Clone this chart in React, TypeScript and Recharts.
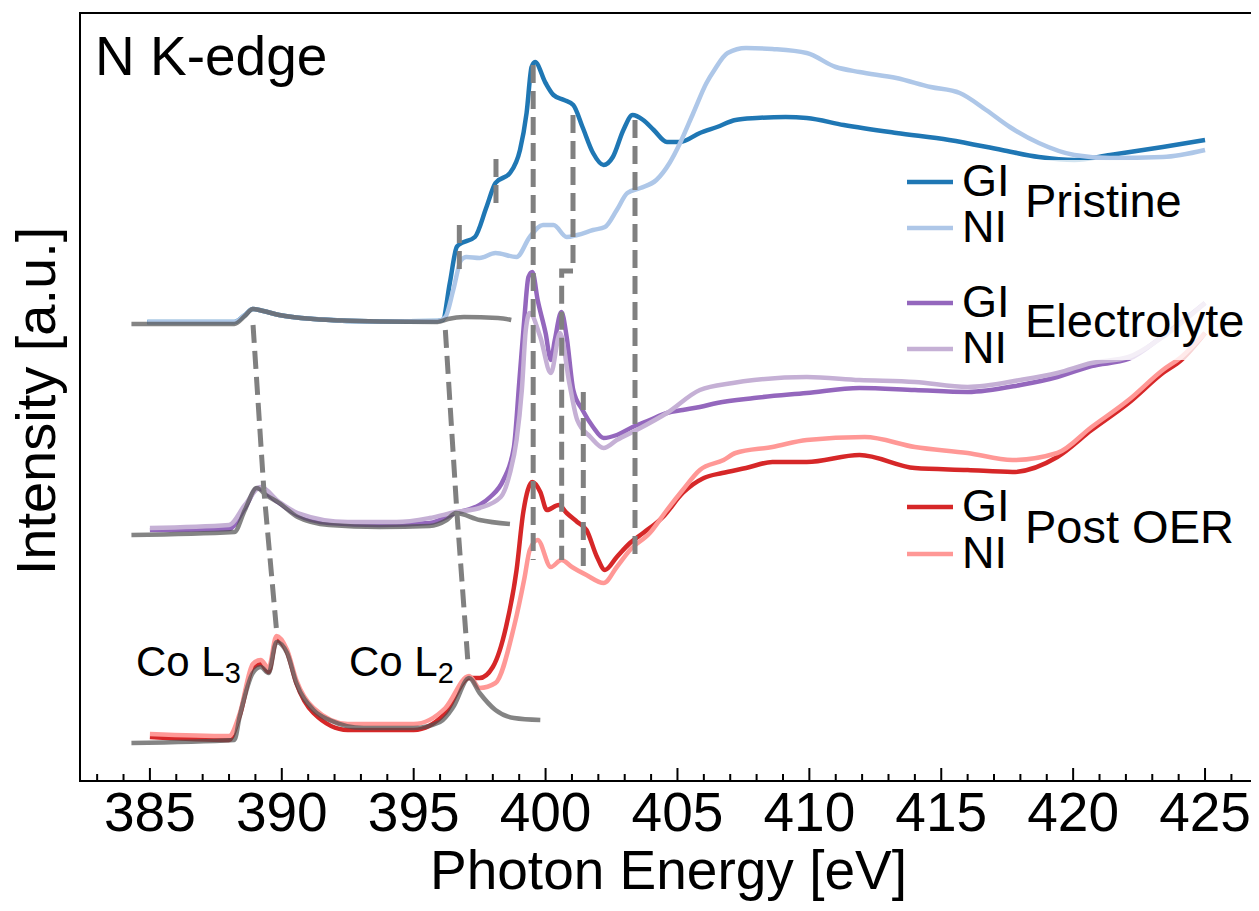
import React from 'react';
import { ComposedChart, Line, XAxis, YAxis, Label } from 'recharts';

const FONT = '"Liberation Sans", Arial, Helvetica, sans-serif';

// ---------- axis ticks ----------
const energyTicks = [383, 384, 385, 386, 387, 388, 389, 390, 391, 392, 393, 394, 395, 396, 397, 398, 399, 400, 401, 402, 403, 404, 405, 406, 407, 408, 409, 410, 411, 412, 413, 414, 415, 416, 417, 418, 419, 420, 421, 422, 423, 424, 425, 426];
const majorTickLabels = ['385', '390', '395', '400', '405', '410', '415', '420', '425'];
const xDomain = [382.35, 426.97];
const yDomain = [0, 7.68];

// ---------- Pristine ----------
const prRefE = [384.3, 388.2, 388.6, 388.9, 389.3, 389.9, 391.2, 393.7, 395.9, 396.3, 396.9, 398.2, 398.7];
const prRefI = [4.57, 4.57, 4.65, 4.72, 4.70, 4.66, 4.62, 4.595, 4.59, 4.62, 4.64, 4.63, 4.61];

const prGIE = [384.9, 388.2, 388.6, 388.9, 389.3, 389.9, 391.2, 393.7, 395.9, 396.1, 396.37, 396.63, 396.7, 397.32, 397.76, 398.1, 398.65, 399.03, 399.28, 399.47, 399.6, 400.0, 400.3, 400.7, 401.05, 401.4, 401.8, 402.2, 402.55, 402.95, 403.3, 403.7, 404.1, 404.6, 405.1, 405.85, 406.5, 407.2, 408.0, 409.1, 409.9, 411.3, 413.3, 415.3, 417.3, 418.7, 420.05, 421.4, 423.4, 425.0];
const prGII = [4.59, 4.59, 4.66, 4.72, 4.70, 4.66, 4.62, 4.595, 4.60, 4.61, 4.98, 5.34, 5.36, 5.44, 5.74, 5.98, 6.08, 6.31, 6.68, 7.14, 7.19, 6.98, 6.86, 6.81, 6.76, 6.54, 6.28, 6.16, 6.24, 6.51, 6.66, 6.61, 6.51, 6.39, 6.39, 6.48, 6.54, 6.61, 6.63, 6.64, 6.63, 6.56, 6.48, 6.41, 6.31, 6.24, 6.21, 6.26, 6.34, 6.41];

const prNIE = [384.9, 388.2, 388.6, 388.9, 389.3, 389.9, 391.2, 393.7, 395.9, 396.2, 396.5, 396.8, 397.0, 397.5, 398.1, 398.9, 399.4, 399.9, 400.3, 400.8, 401.2, 401.8, 402.25, 402.7, 403.1, 403.6, 404.2, 404.7, 405.1, 405.6, 406.1, 406.4, 406.9, 407.6, 408.6, 409.9, 411.0, 411.9, 413.3, 414.6, 415.7, 416.7, 417.6, 418.7, 420.05, 421.4, 423.4, 425.0];
const prNII = [4.59, 4.59, 4.66, 4.72, 4.70, 4.66, 4.62, 4.595, 4.60, 4.64, 4.91, 5.21, 5.24, 5.23, 5.28, 5.24, 5.44, 5.56, 5.56, 5.44, 5.46, 5.51, 5.54, 5.71, 5.88, 5.93, 6.01, 6.18, 6.38, 6.68, 6.98, 7.11, 7.28, 7.33, 7.32, 7.28, 7.14, 7.09, 7.03, 6.94, 6.88, 6.71, 6.54, 6.38, 6.26, 6.23, 6.24, 6.31];

// ---------- Electrolyte ----------
const elRefE = [384.3, 388.2, 388.6, 389.05, 389.4, 389.9, 390.6, 391.8, 393.7, 395.6, 396.25, 396.6, 397.5, 398.65];
const elRefI = [2.46, 2.49, 2.71, 2.93, 2.86, 2.78, 2.64, 2.56, 2.54, 2.55, 2.61, 2.68, 2.61, 2.57];

const elGIE = [385.0, 388.0, 388.6, 389.1, 389.5, 389.9, 390.6, 391.8, 393.7, 395.6, 396.6, 397.5, 397.9, 398.4, 398.8, 399.0, 399.2, 399.35, 399.5, 399.7, 400.0, 400.2, 400.35, 400.6, 400.8, 401.05, 401.4, 401.8, 402.2, 402.7, 403.3, 403.95, 404.6, 405.2, 405.85, 406.5, 407.9, 409.9, 411.9, 414.0, 416.0, 418.0, 419.4, 420.7, 422.1, 423.4, 425.0];
const elGII = [2.51, 2.52, 2.73, 2.93, 2.86, 2.78, 2.66, 2.58, 2.56, 2.58, 2.68, 2.76, 2.84, 3.01, 3.34, 3.98, 4.64, 5.04, 5.09, 4.81, 4.48, 4.21, 4.41, 4.69, 4.44, 3.91, 3.71, 3.54, 3.43, 3.46, 3.54, 3.61, 3.68, 3.71, 3.74, 3.78, 3.83, 3.88, 3.93, 3.91, 3.89, 3.96, 4.04, 4.15, 4.22, 4.45, 4.78];

const elNIE = [385.0, 388.0, 388.6, 389.2, 389.9, 390.6, 392.5, 394.35, 395.6, 396.6, 397.5, 398.3, 398.65, 398.9, 399.1, 399.25, 399.4, 399.8, 400.2, 400.55, 400.9, 401.2, 401.7, 402.2, 402.7, 403.45, 404.6, 405.85, 407.1, 407.9, 409.9, 411.9, 414.0, 416.0, 418.0, 419.4, 420.7, 422.1, 423.4, 425.0];
const elNII = [2.53, 2.56, 2.76, 2.94, 2.79, 2.68, 2.59, 2.59, 2.63, 2.69, 2.73, 2.84, 3.08, 3.41, 3.91, 4.51, 4.68, 4.44, 4.08, 4.48, 3.98, 3.61, 3.44, 3.33, 3.41, 3.51, 3.68, 3.91, 3.98, 4.01, 4.04, 4.01, 3.99, 3.94, 4.01, 4.08, 4.18, 4.24, 4.44, 4.78];

// ---------- Post OER ----------
const poRefE = [384.3, 388.2, 388.4, 388.9, 389.2, 389.5, 389.8, 390.2, 390.55, 391.2, 391.8, 393.1, 395.0, 396.0, 396.5, 397.1, 397.5, 398.1, 398.8, 399.8];
const poRefI = [0.38, 0.41, 0.64, 1.08, 1.14, 1.08, 1.39, 1.28, 0.98, 0.71, 0.61, 0.53, 0.53, 0.59, 0.74, 1.03, 0.88, 0.71, 0.63, 0.61];

const poGIE = [385.0, 388.0, 388.4, 388.9, 389.2, 389.5, 389.8, 390.2, 390.55, 391.2, 392.5, 395.0, 396.2, 397.1, 397.5, 398.0, 398.5, 398.9, 399.15, 399.5, 399.8, 400.05, 400.5, 400.8, 401.2, 401.55, 401.95, 402.25, 402.7, 403.2, 403.7, 404.45, 405.2, 406.0, 406.7, 407.6, 408.6, 409.9, 411.9, 414.0, 416.0, 417.7, 419.4, 420.7, 422.1, 423.4, 424.1, 425.0];
const poGII = [0.44, 0.41, 0.65, 1.13, 1.17, 1.09, 1.41, 1.29, 0.98, 0.68, 0.51, 0.51, 0.68, 1.03, 1.03, 1.14, 1.54, 2.11, 2.68, 2.99, 2.89, 2.71, 2.76, 2.68, 2.59, 2.51, 2.24, 2.11, 2.24, 2.38, 2.48, 2.64, 2.88, 3.03, 3.08, 3.13, 3.19, 3.19, 3.26, 3.13, 3.11, 3.09, 3.24, 3.51, 3.78, 4.08, 4.21, 4.48];

const poNIE = [385.0, 388.0, 388.4, 388.9, 389.2, 389.5, 389.8, 390.2, 390.55, 391.2, 392.5, 395.0, 396.2, 397.1, 397.5, 398.1, 398.8, 399.2, 399.4, 399.7, 400.2, 400.6, 401.0, 401.55, 402.2, 402.7, 403.2, 403.95, 404.6, 405.2, 405.85, 406.75, 407.2, 408.6, 409.9, 412.1, 414.0, 416.0, 417.7, 419.4, 420.7, 422.1, 423.4, 424.1, 425.0];
const poNII = [0.47, 0.45, 0.67, 1.17, 1.21, 1.13, 1.45, 1.31, 1.01, 0.73, 0.57, 0.57, 0.73, 1.05, 0.93, 0.98, 1.54, 2.03, 2.31, 2.41, 2.14, 2.21, 2.14, 2.06, 1.98, 2.14, 2.31, 2.48, 2.71, 2.91, 3.11, 3.21, 3.28, 3.34, 3.41, 3.44, 3.34, 3.28, 3.21, 3.28, 3.54, 3.81, 4.11, 4.24, 4.48];

// ---------- dashed peak guides ----------
const coL3E = [388.91, 389.32, 389.81];
const coL3I = [4.56, 2.91, 1.48];
const coL2E = [396.2, 396.64, 397.07];
const coL2I = [4.51, 2.68, 1.14];
const guideAE = [399.53, 399.53];
const guideAI = [7.16, 2.21];
const guideBE = [401.04, 401.04, 400.61, 400.61];
const guideBI = [6.66, 5.10, 5.10, 2.21];
const guideCE = [401.43, 401.43];
const guideCI = [3.89, 2.08];
const guideDE = [403.39, 403.39];
const guideDI = [6.61, 2.21];
const guideEE = [396.73, 396.73];
const guideEI = [5.56, 5.11];
const guideFE = [398.12, 398.12];
const guideFI = [6.22, 5.76];

const zip = (E: number[], I: number[]) => E.map((e, i) => ({ E: e, I: I[i] }));

const spectra = [
  { key: 'prGI', data: zip(prGIE, prGII), color: '#1f77b4' },
  { key: 'prNI', data: zip(prNIE, prNII), color: '#aec7e8' },
  { key: 'elGI', data: zip(elGIE, elGII), color: '#9467bd' },
  { key: 'elNI', data: zip(elNIE, elNII), color: '#c5b0d5' },
  { key: 'poGI', data: zip(poGIE, poGII), color: '#d62728' },
  { key: 'poNI', data: zip(poNIE, poNII), color: '#ff9896' },
];

const references = [
  { key: 'prRef', data: zip(prRefE, prRefI) },
  { key: 'elRef', data: zip(elRefE, elRefI) },
  { key: 'poRef', data: zip(poRefE, poRefI) },
];

const guides = [
  { key: 'coL3', data: zip(coL3E, coL3I) },
  { key: 'coL2', data: zip(coL2E, coL2I) },
  { key: 'gA', data: zip(guideAE, guideAI) },
  { key: 'gB', data: zip(guideBE, guideBI) },
  { key: 'gC', data: zip(guideCE, guideCI) },
  { key: 'gD', data: zip(guideDE, guideDI) },
  { key: 'gE', data: zip(guideEE, guideEI) },
  { key: 'gF', data: zip(guideFE, guideFI) },
];

const legendGroups = [
  { title: 'Pristine', gi: '#1f77b4', ni: '#aec7e8', giY: 182, niY: 228, titleY: 217, boxTop: 160, boxBottom: 252 },
  { title: 'Electrolyte', gi: '#9467bd', ni: '#c5b0d5', giY: 303, niY: 349, titleY: 337, boxTop: 276, boxBottom: 360 },
  { title: 'Post OER', gi: '#d62728', ni: '#ff9896', giY: 507, niY: 554, titleY: 543, boxTop: 483, boxBottom: 577 },
];

const renderTick = (props: any) => {
  const { x, y, payload } = props;
  const v = payload.value as number;
  const label = majorTickLabels.find((t) => Number(t) === v);
  const major = label !== undefined;
  return (
    <g>
      <line x1={x} x2={x} y1={y} y2={y - (major ? 13 : 7)} stroke="#000" strokeWidth={2} />
      {major && (
        <text x={x} y={y + 50} textAnchor="middle" fontSize={55} fontFamily={FONT} fill="#000">
          {label}
        </text>
      )}
    </g>
  );
};

export default function App() {
  return (
    <div style={{ position: 'relative', width: 1259, height: 911, margin: -8, fontFamily: FONT }}>
      <ComposedChart width={1259} height={911} margin={{ top: 13, right: 2, bottom: 0, left: 0 }}>
        <XAxis
          dataKey="E"
          type="number"
          domain={xDomain}
          allowDataOverflow
          ticks={energyTicks}
          interval={0}
          tickSize={0}
          tickMargin={0}
          tickLine={false}
          tick={renderTick}
          height={130}
          axisLine={{ stroke: '#000', strokeWidth: 2 }}
        >
          <Label
            content={(p: any) => {
              const vb = p.viewBox || { x: 80, y: 781, width: 1177, height: 130 };
              return (
                <text x={vb.x + vb.width / 2} y={vb.y + 108} textAnchor="middle" fontSize={55} fontFamily={FONT} fill="#000">
                  Photon Energy [eV]
                </text>
              );
            }}
          />
        </XAxis>
        <YAxis
          type="number"
          domain={yDomain}
          allowDataOverflow
          width={80}
          tick={false}
          tickLine={false}
          axisLine={{ stroke: '#000', strokeWidth: 2 }}
        >
          <Label
            content={(p: any) => {
              const vb = p.viewBox || { x: 0, y: 13, width: 80, height: 768 };
              const cx = vb.x + 55;
              const cy = vb.y + vb.height / 2 + 4;
              return (
                <text x={cx} y={cy} transform={`rotate(-90, ${cx}, ${cy})`} textAnchor="middle" fontSize={56} fontFamily={FONT} fill="#000">
                  Intensity [a.u.]
                </text>
              );
            }}
          />
        </YAxis>
        {spectra.map((s) => (
          <Line
            key={s.key}
            data={s.data}
            dataKey="I"
            type="monotone"
            stroke={s.color}
            strokeWidth={4.5}
            dot={false}
            activeDot={false}
            isAnimationActive={false}
          />
        ))}
        {references.map((s) => (
          <Line
            key={s.key}
            data={s.data}
            dataKey="I"
            type="monotone"
            stroke="#505050"
            strokeOpacity={0.7}
            strokeWidth={4.5}
            dot={false}
            activeDot={false}
            isAnimationActive={false}
          />
        ))}
        {guides.map((s) => (
          <Line
            key={s.key}
            data={s.data}
            dataKey="I"
            type="linear"
            stroke="#808080"
            strokeWidth={5}
            strokeDasharray="18 8"
            dot={false}
            activeDot={false}
            isAnimationActive={false}
          />
        ))}
      </ComposedChart>
      <svg
        width={1259}
        height={911}
        style={{ position: 'absolute', left: 0, top: 0, pointerEvents: 'none' }}
      >
        <text x={95} y={75} fontSize={55} fontFamily={FONT} fill="#000">N K-edge</text>
        {legendGroups.map((g) => (
          <g key={g.title}>
            <rect x={897} y={g.boxTop} width={358} height={g.boxBottom - g.boxTop} fill="#ffffff" fillOpacity={0.8} />
            <line x1={907} x2={953} y1={g.giY} y2={g.giY} stroke={g.gi} strokeWidth={4.5} />
            <line x1={907} x2={953} y1={g.niY} y2={g.niY} stroke={g.ni} strokeWidth={4.5} />
            <text x={962} y={g.giY + 14} fontSize={45} fontFamily={FONT} fill="#000">GI</text>
            <text x={962} y={g.niY + 14} fontSize={45} fontFamily={FONT} fill="#000">NI</text>
            <text x={1025} y={g.titleY} fontSize={47} fontFamily={FONT} fill="#000">{g.title}</text>
          </g>
        ))}
        <text x={136} y={676} fontSize={42} fontFamily={FONT} fill="#000">
          Co L<tspan fontSize={29} dy={7}>3</tspan>
        </text>
        <text x={349} y={676} fontSize={42} fontFamily={FONT} fill="#000">
          Co L<tspan fontSize={29} dy={7}>2</tspan>
        </text>
        <rect x={80} y={13} width={1177} height={768} fill="none" stroke="#000" strokeWidth={2} />
      </svg>
    </div>
  );
}
